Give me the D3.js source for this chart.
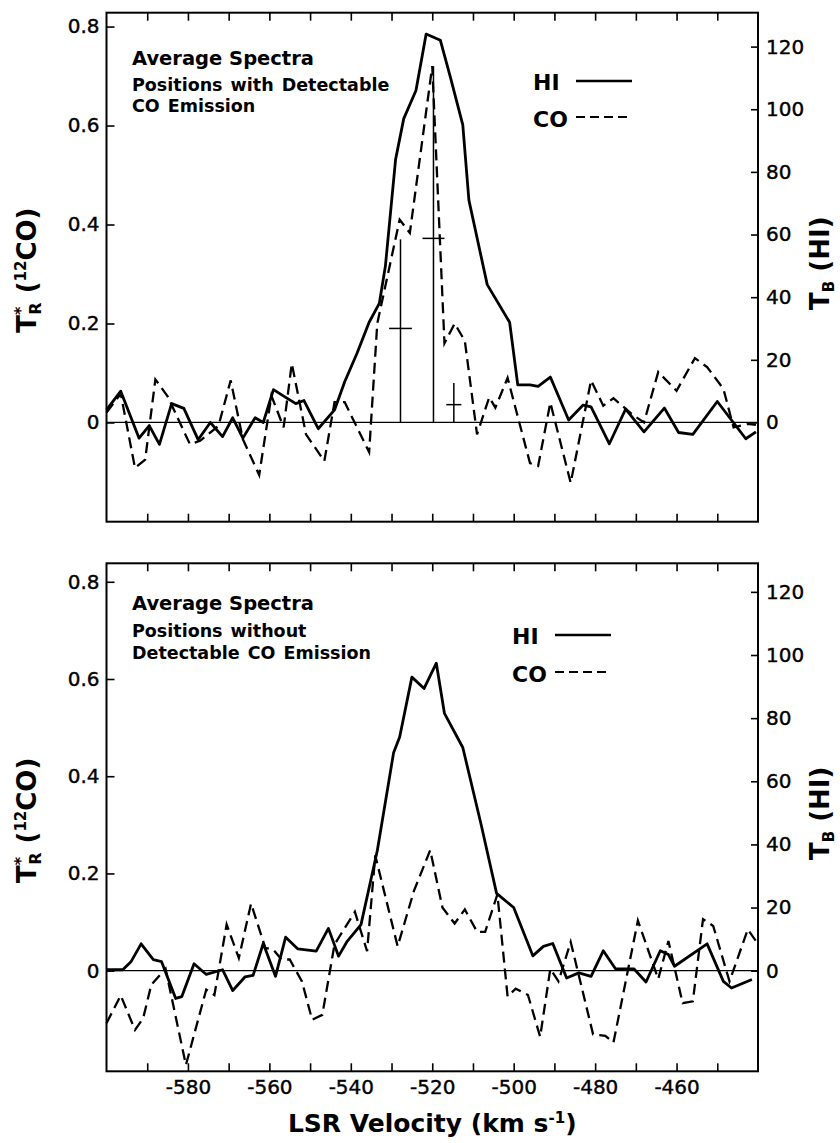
<!DOCTYPE html>
<html>
<head>
<meta charset="utf-8">
<script src="https://cdn.jsdelivr.net/npm/d3@7"></script>
<style>
  body { margin: 0; background: #fff; }
  svg { display: block; font-family: "DejaVu Sans", sans-serif; }
</style>
</head>
<body>
<svg width="840" height="1143"></svg>
<script>
// average spectra, HI (right axis, K) and 12CO (left axis, K) vs LSR velocity

// axis ticks
const xTicks = [-590, -580, -570, -560, -550, -540, -530, -520, -510, -500, -490, -480, -470, -460, -450]
const xTickLabels = [-580, -560, -540, -520, -500, -480, -460]
const coTicks = [0, 0.2, 0.4, 0.6, 0.8]
const hiTicks = [0, 20, 40, 60, 80, 100, 120]

// top panel: positions with detectable CO
const topHIVel = [-600, -596.5, -592, -589.5, -587, -584, -581, -577.5, -574.5, -571.5, -569, -566.5, -563.5, -561.5, -559, -556, -553.5, -551.5, -548, -544, -541.5, -538.5, -535.5, -533, -531.5, -529, -527, -524, -521.5, -518, -515.5, -512.5, -511, -506.5, -501, -499, -496, -494, -491, -486.5, -483, -481, -476.5, -472.5, -468, -463, -459.5, -456, -450, -443, -440.5]
const topHI = [4, 10, -5, -1, -7, 6, 4.5, -5.5, 0, -4.5, 1.5, -5, 1.5, 0, 10.5, 8, 6, 7, -2, 4, 13, 22, 32, 38, 50, 84, 97, 106, 124, 122, 110, 95, 71, 44, 32, 12, 12, 11.5, 14.5, 0.8, 5.5, 5, -6.8, 4.3, -3, 4.6, -3.2, -3.8, 6.7, -5.2, -3]

const topCOVel = [-600, -596.5, -593, -590.5, -588, -585, -579.5, -577, -572.5, -569.5, -566.5, -562.5, -559.5, -556.5, -554.5, -551, -546.5, -544, -541.5, -535.5, -533.5, -528, -525.5, -520, -517, -514.5, -512, -509, -506, -504.5, -501.5, -496, -494, -491, -486, -481, -478, -475.5, -471, -468, -464.5, -460, -455.5, -452.5, -448.5, -446, -442.5, -440.5]
const topCO = [0.02, 0.058, -0.092, -0.075, 0.087, 0.053, -0.044, -0.037, -0.007, 0.085, -0.034, -0.106, 0.054, -0.01, 0.119, -0.024, -0.078, 0.041, 0.041, -0.06, 0.2, 0.41, 0.383, 0.72, 0.16, 0.2, 0.165, -0.024, 0.051, 0.03, 0.09, -0.082, -0.088, 0.04, -0.122, 0.085, 0.034, 0.049, 0.017, 0, 0.102, 0.064, 0.13, 0.112, 0.068, -0.01, -0.003, -0.005]

// error crosses drawn on the top panel
const errVel = [-527.8, -519.7, -514.7]
const errTop = [0.37, 0.72, 0.08]
const errMid = [0.19, 0.372, 0.036]
const errHalf = [2.8, 2.7, 1.85]

// bottom panel: positions without detectable CO
const botHIVel = [-600, -596, -594, -591.5, -588.5, -586.5, -583, -581.5, -578.5, -575.5, -571.5, -569, -566, -564, -561.5, -558.5, -556, -553, -548.5, -545.5, -543, -541, -537.5, -533.5, -529.5, -528, -525, -522, -519, -517, -512.5, -508, -504.2, -500, -495.3, -492.7, -490.4, -487, -484, -481, -478, -475, -470.5, -467.5, -464, -462, -460.5, -452.5, -448.5, -446.5, -441.5]
const botHI = [0.3, 0.3, 2.8, 8.5, 3.5, 2.9, -8.8, -8.2, 2.2, -1.2, 0.3, -6.3, -2, -1.5, 8.6, -1.8, 10.6, 6.9, 6.2, 13.4, 4.6, 9.1, 14.6, 38, 69, 74, 93, 89.4, 97.4, 81.5, 70.7, 46.3, 24.5, 20, 4.7, 7.7, 8.6, -2.3, -0.7, -1.8, 6.3, 0.6, 0.6, -3.6, 6.3, 5.1, 1.4, 8.5, -3.4, -5.5, -2.8]

const botCOVel = [-600, -596.5, -593, -591, -589, -585.5, -580.5, -575.5, -573.5, -570.5, -567.5, -564.5, -561, -559, -557, -555, -552, -549.5, -547, -544, -539, -536, -534, -528.5, -524.5, -520.5, -517.5, -514.5, -512, -509, -507, -504, -501.5, -499.5, -496.5, -493.5, -491, -489, -486, -480.5, -477.5, -475.5, -469.5, -464.5, -462, -458.5, -456, -453.5, -451, -447, -442.5, -440.5]
const botCO = [-0.108, -0.051, -0.122, -0.098, -0.029, 0.004, -0.194, -0.039, -0.05, 0.095, 0.026, 0.138, 0.047, 0.043, 0.023, 0.023, -0.022, -0.101, -0.091, 0.054, 0.121, 0.04, 0.237, 0.05, 0.164, 0.248, 0.13, 0.097, 0.126, 0.08, 0.08, 0.157, -0.053, -0.037, -0.05, -0.136, 0.004, -0.022, 0.059, -0.131, -0.134, -0.148, 0.103, -0.017, 0.061, -0.067, -0.063, 0.106, 0.092, -0.022, 0.085, 0.061]


const svg = d3.select('svg')

const x = d3.scaleLinear()
	.domain([-600, -440])
	.range([106.5, 758])

const dashes = '11,6'

const drawPanel = (p) => {
	const yCO = d3.scaleLinear().domain(p.coDomain).range([p.y1, p.y0])
	// HI scale shares the frame, just a different unit per pixel
	const yHI = d3.scaleLinear().domain(p.coDomain.map(d => d * p.hiPerCO)).range([p.y1, p.y0])

	const g = svg.append('g')

	// zero line
	g.append('line')
		.attr('x1', x.range()[0]).attr('x2', x.range()[1])
		.attr('y1', yCO(0)).attr('y2', yCO(0))
		.attr('stroke', '#000').attr('stroke-width', 1.3)

	// left axis (CO)
	const left = g.append('g')
		.attr('transform', `translate(${x.range()[0]},0)`)
		.call(d3.axisLeft(yCO).tickValues(coTicks).tickSize(-8).tickPadding(7)
			.tickFormat(d => d === 0 ? '0' : d3.format('.1f')(d)))
	// right axis (HI)
	const right = g.append('g')
		.attr('transform', `translate(${x.range()[1]},0)`)
		.call(d3.axisRight(yHI).tickValues(hiTicks).tickSize(-7).tickPadding(8))
	// top + bottom ticks
	const top = g.append('g')
		.attr('transform', `translate(0,${p.y0})`)
		.call(d3.axisTop(x).tickValues(xTicks).tickSize(-8).tickFormat(''))
	const bottom = g.append('g')
		.attr('transform', `translate(0,${p.y1})`)
		.call(d3.axisBottom(x).tickValues(xTicks).tickSize(-8).tickPadding(9)
			.tickFormat(d => p.labels && xTickLabels.includes(d) ? String(d) : ''))

	;[left, right, top, bottom].forEach(a => {
		a.select('.domain').remove()
		a.selectAll('line').attr('stroke-width', 1.6)
		a.selectAll('text')
			.style('font-size', '20px').style('font-family', '"DejaVu Sans", sans-serif')
			.attr('fill', '#000').attr('stroke', '#000').attr('stroke-width', 0.4)
	})

	// frame
	g.append('rect')
		.attr('x', x.range()[0]).attr('y', p.y0)
		.attr('width', x.range()[1] - x.range()[0]).attr('height', p.y1 - p.y0)
		.attr('fill', 'none').attr('stroke', '#000').attr('stroke-width', 2)

	const hiLine = d3.line().x(d => x(d[0])).y(d => yHI(d[1]))
	const coLine = d3.line().x(d => x(d[0])).y(d => yCO(d[1]))

	g.append('path')
		.datum(d3.zip(p.coVel, p.co))
		.attr('d', coLine)
		.attr('fill', 'none').attr('stroke', '#000')
		.attr('stroke-width', 2.3).attr('stroke-dasharray', dashes)

	g.append('path')
		.datum(d3.zip(p.hiVel, p.hi))
		.attr('d', hiLine)
		.attr('fill', 'none').attr('stroke', '#000')
		.attr('stroke-width', 2.8).attr('stroke-linejoin', 'round')

	// crosses (top panel only)
	if (p.err) {
		const e = g.append('g').attr('stroke', '#000').attr('stroke-width', 1.5)
		errVel.forEach((v, i) => {
			e.append('line').attr('x1', x(v)).attr('x2', x(v)).attr('y1', yCO(0)).attr('y2', yCO(errTop[i]))
			e.append('line').attr('x1', x(v - errHalf[i])).attr('x2', x(v + errHalf[i]))
				.attr('y1', yCO(errMid[i])).attr('y2', yCO(errMid[i]))
		})
	}

	// panel notes
	const note = g.append('g').attr('font-weight', 'bold').attr('fill', '#000')
	note.append('text').attr('x', 132).attr('y', p.noteY[0]).style('font-size', '19.5px').text('Average Spectra')
	p.note.forEach((t, i) => {
		note.append('text').attr('x', 132).attr('y', p.noteY[i + 1])
			.style('font-size', '17.5px').style('word-spacing', '2px').text(t)
	})

	// legend
	const lg = g.append('g').attr('font-weight', 'bold').style('font-size', '22px')
	lg.append('text').attr('x', p.legX).attr('y', p.legY[0]).text('HI')
	lg.append('text').attr('x', p.legX).attr('y', p.legY[1]).text('CO')
	lg.append('line').attr('x1', p.legX + 43).attr('x2', p.legX + 99)
		.attr('y1', p.legY[0] - 9).attr('y2', p.legY[0] - 9)
		.attr('stroke', '#000').attr('stroke-width', 2.6)
	lg.append('line').attr('x1', p.legX + 43).attr('x2', p.legX + 99)
		.attr('y1', p.legY[1] - 10).attr('y2', p.legY[1] - 10)
		.attr('stroke', '#000').attr('stroke-width', 2.2).attr('stroke-dasharray', '9,5')

	// axis titles
	const mid = (p.y0 + p.y1) / 2
	const lt = g.append('text')
		.attr('transform', `translate(36,${mid + 3}) rotate(-90)`)
		.attr('text-anchor', 'middle').attr('font-weight', 'bold').style('font-size', '26px')
	lt.append('tspan').text('T')
	lt.append('tspan').attr('dy', -10).style('font-size', '16px').text('*')
	lt.append('tspan').attr('dx', -8).attr('dy', 15).style('font-size', '16px').text('R')
	lt.append('tspan').attr('dy', -5).text(' (')
	lt.append('tspan').attr('dy', -10).style('font-size', '15px').text('12')
	lt.append('tspan').attr('dy', 10).text('CO)')

	const rt = g.append('text')
		.attr('transform', `translate(829,${mid - 4}) rotate(-90)`)
		.attr('text-anchor', 'middle').attr('font-weight', 'bold').style('font-size', '26px')
	rt.append('tspan').text('T')
	rt.append('tspan').attr('dy', 5).style('font-size', '15px').text('B')
	rt.append('tspan').attr('dy', -5).text(' (HI)')
}

drawPanel({
	y0: 12.7, y1: 521.7,
	coDomain: [-0.2005, 0.828], hiPerCO: 158,
	hiVel: topHIVel, hi: topHI, coVel: topCOVel, co: topCO,
	err: true, labels: false,
	note: ['Positions with Detectable', 'CO Emission'], noteY: [65, 91, 112],
	legX: 533, legY: [90, 127]
})

drawPanel({
	y0: 563.3, y1: 1071.3,
	coDomain: [-0.207, 0.838], hiPerCO: 154,
	hiVel: botHIVel, hi: botHI, coVel: botCOVel, co: botCO,
	err: false, labels: true,
	note: ['Positions without', 'Detectable CO Emission'], noteY: [610, 637, 659],
	legX: 512, legY: [644, 682]
})

// x title
const xt = svg.append('text')
	.attr('x', x(-520)).attr('y', 1132)
	.attr('text-anchor', 'middle').attr('font-weight', 'bold').style('font-size', '25px')
xt.append('tspan').text('LSR Velocity (km s')
xt.append('tspan').attr('dy', -9).style('font-size', '15px').text('-1')
xt.append('tspan').attr('dy', 9).text(')')
</script>
</body>
</html>
